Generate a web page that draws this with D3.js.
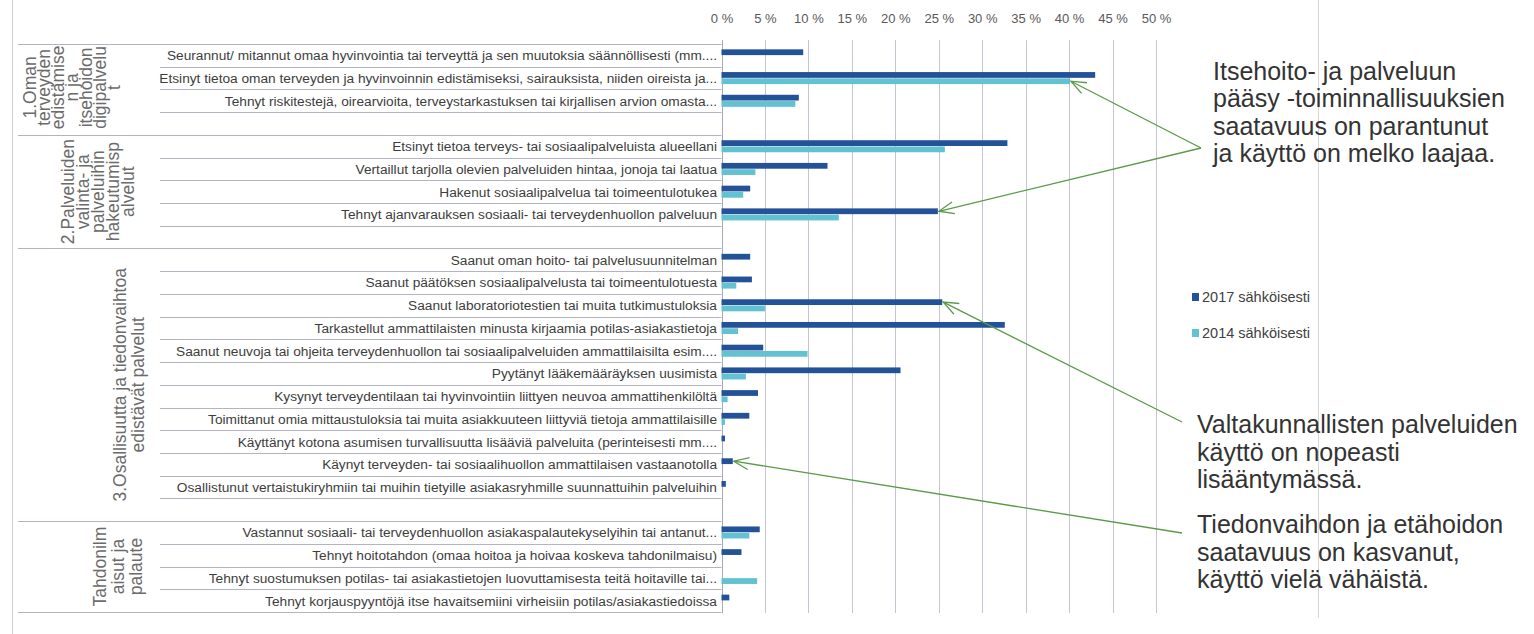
<!DOCTYPE html>
<html><head><meta charset="utf-8">
<script src="https://cdn.jsdelivr.net/npm/d3@7"></script>
<style>body{margin:0;background:#fff}svg{display:block}</style>
</head><body>
<svg id="chart" width="1534" height="634"></svg>
<script>
// ---------------- DATA ----------------
const categories = [
  "Seurannut/ mitannut omaa hyvinvointia tai terveyttä ja sen muutoksia säännöllisesti (mm....",
  "Etsinyt tietoa oman terveyden ja hyvinvoinnin edistämiseksi, sairauksista, niiden oireista ja...",
  "Tehnyt riskitestejä, oirearvioita, terveystarkastuksen tai kirjallisen arvion omasta...",
  "",
  "Etsinyt tietoa terveys- tai sosiaalipalveluista alueellani",
  "Vertaillut tarjolla olevien palveluiden hintaa, jonoja tai laatua",
  "Hakenut sosiaalipalvelua tai toimeentulotukea",
  "Tehnyt ajanvarauksen sosiaali- tai terveydenhuollon palveluun",
  "",
  "Saanut oman hoito- tai palvelusuunnitelman",
  "Saanut päätöksen sosiaalipalvelusta tai toimeentulotuesta",
  "Saanut laboratoriotestien tai muita tutkimustuloksia",
  "Tarkastellut ammattilaisten minusta kirjaamia potilas-asiakastietoja",
  "Saanut neuvoja tai ohjeita terveydenhuollon tai sosiaalipalveluiden ammattilaisilta esim....",
  "Pyytänyt lääkemääräyksen uusimista",
  "Kysynyt terveydentilaan tai hyvinvointiin liittyen neuvoa ammattihenkilöltä",
  "Toimittanut omia mittaustuloksia tai muita asiakkuuteen liittyviä tietoja ammattilaisille",
  "Käyttänyt kotona asumisen turvallisuutta lisääviä palveluita (perinteisesti mm....",
  "Käynyt terveyden- tai sosiaalihuollon ammattilaisen vastaanotolla",
  "Osallistunut vertaistukiryhmiin tai muihin tietyille asiakasryhmille suunnattuihin palveluihin",
  "",
  "Vastannut sosiaali- tai terveydenhuollon asiakaspalautekyselyihin tai antanut...",
  "Tehnyt hoitotahdon (omaa hoitoa ja hoivaa koskeva tahdonilmaisu)",
  "Tehnyt suostumuksen potilas- tai asiakastietojen luovuttamisesta teitä hoitaville tai...",
  "Tehnyt korjauspyyntöjä itse havaitsemiini virheisiin potilas/asiakastiedoissa"
];
const values2017 = [9.4, 43.0, 8.9, null, 32.9, 12.2, 3.3, 24.9, null,
  3.3, 3.5, 25.4, 32.6, 4.8, 20.6, 4.2, 3.2, 0.4, 1.3, 0.5, null,
  4.4, 2.3, null, 0.9];
const values2014 = [null, 40.1, 8.5, null, 25.7, 3.9, 2.5, 13.5, null,
  null, 1.7, 5.0, 1.9, 9.9, 2.8, 0.7, 0.4, null, null, null, null,
  3.2, null, 4.1, null];
const seriesNames = ["2017 sähköisesti", "2014 sähköisesti"];
const groupLabels = [
  ["1.Oman", "terveyden", "edistämise", "n ja", "itsehoidon", "digipalvelu", "t"],
  ["2.Palveluiden", "valinta- ja", "palveluihin", "hakeutumisp", "alvelut"],
  ["3.Osallisuutta ja tiedonvaihtoa", "edistävät palvelut"],
  ["Tahdonilm", "aisut ja", "palaute"]
];
const groupSizes = [4, 5, 12, 4];
const tickValues = [0, 5, 10, 15, 20, 25, 30, 35, 40, 45, 50];
const annotationTexts = [
  ["Itsehoito- ja palveluun", "pääsy -toiminnallisuuksien", "saatavuus on parantunut", "ja käyttö on melko laajaa."],
  ["Valtakunnallisten palveluiden", "käyttö on nopeasti", "lisääntymässä."],
  ["Tiedonvaihdon ja etähoidon", "saatavuus on kasvanut,", "käyttö vielä vähäistä."]
];
// arrows: annotation index -> row index + series
const arrowTargets = [
  {ann: 0, row: 1, series: 1},
  {ann: 0, row: 7, series: 0},
  {ann: 1, row: 11, series: 0},
  {ann: 2, row: 18, series: 0}
];

// ---------------- LAYOUT ----------------
const L = {
  plotX0: 721.5, plotX1: 1156, rowTop: 44, rowBot: 612,
  gridTop: 40, gridBot: 613,
  labelRight: 717, sepLeft: 160, groupLeft: 18,
  groupX0: [29.5, 68, 120, 100], groupDX: [14, 15, 18, 18], groupDY: [-2, 0, 0, 0],
  annX: [1213, 1197, 1197], annY0: [79.5, 433, 533], annDY: 27.6,
  arrowFrom: [[1201, 148], [1182, 422], [1182, 533]],
  legendX: 1192, legendY: [297, 333]
};
const colors = ["#245299", "#62c2d1"];
const green = "#5a9a48";

const svg = d3.select("#chart");
const idx = d3.range(categories.length);

const x = d3.scaleLinear().domain([0, 50]).range([L.plotX0, L.plotX1]);
const y = d3.scaleBand().domain(idx).range([L.rowTop, L.rowBot])
  .paddingInner(0.47).paddingOuter(0.235);
const ySub = d3.scaleBand().domain([0, 1]).range([0, y.bandwidth()]).paddingInner(0.08);
const step = y.step();
const rowStart = i => y(i) - step * y.paddingInner() / 2;

// outer frame
svg.append("line").attr("x1", 12.5).attr("x2", 12.5).attr("y1", 0).attr("y2", 634)
  .attr("stroke", "#cfcfcf");
svg.append("line").attr("x1", 1318.5).attr("x2", 1318.5).attr("y1", 0).attr("y2", 618)
  .attr("stroke", "#d6d6d6");

// gridlines
svg.append("g").selectAll("line").data(tickValues).join("line")
  .attr("x1", d => Math.round(x(d)) + 0.5).attr("x2", d => Math.round(x(d)) + 0.5)
  .attr("y1", L.gridTop).attr("y2", L.gridBot)
  .attr("stroke", d => d === 0 ? "#a9a9bd" : "#c4c4d4").attr("stroke-width", 1);

// top axis labels
const xAxis = d3.axisTop(x).tickValues(tickValues).tickSize(0).tickFormat(d => d + " %");
const gAx = svg.append("g").attr("transform", "translate(0,26)").call(xAxis);
gAx.select(".domain").remove();
gAx.selectAll("text").attr("font-family", "Liberation Sans, Arial, sans-serif")
  .attr("font-size", 13).attr("fill", "#595959").attr("dy", 0);

// row separators in label area
const groupBoundaryRows = [0];
groupSizes.reduce((acc, s) => { groupBoundaryRows.push(acc + s); return acc + s; }, 0);
const groupYs = groupBoundaryRows.map(r => r < categories.length ? rowStart(r) : L.rowBot);
svg.append("g").selectAll("line").data(d3.range(1, categories.length).filter(i => !groupBoundaryRows.includes(i)))
  .join("line")
  .attr("x1", L.sepLeft).attr("x2", L.plotX0)
  .attr("y1", i => Math.round(rowStart(i)) + 0.5).attr("y2", i => Math.round(rowStart(i)) + 0.5)
  .attr("stroke", "#b3b3c4");
svg.append("g").selectAll("line").data(groupYs).join("line")
  .attr("x1", L.groupLeft).attr("x2", L.plotX0)
  .attr("y1", d => Math.round(d) + 0.5).attr("y2", d => Math.round(d) + 0.5)
  .attr("stroke", "#b3b3c4");

// item labels
svg.append("g").selectAll("text").data(idx.filter(i => categories[i] !== "")).join("text")
  .attr("x", L.labelRight).attr("y", i => y(i) + y.bandwidth() / 2)
  .attr("dy", "0.36em").attr("text-anchor", "end")
  .attr("font-family", "Liberation Sans, Arial, sans-serif").attr("font-size", 13.7)
  .attr("fill", "#3d3d3d").text(i => categories[i]);

// group labels (rotated)
groupLabels.forEach((lines, g) => {
  const cy = (groupYs[g] + groupYs[g + 1]) / 2 + L.groupDY[g];
  lines.forEach((t, k) => {
    const lx = L.groupX0[g] + k * L.groupDX[g];
    svg.append("text")
      .attr("transform", `translate(${lx},${cy}) rotate(-90)`)
      .attr("text-anchor", "middle").attr("dy", "0.35em")
      .attr("font-family", "Liberation Sans, Arial, sans-serif").attr("font-size", 17.5)
      .attr("fill", "#6b6b6b").text(t);
  });
});

// bars
const series = [values2017, values2014];
series.forEach((vals, s) => {
  svg.append("g").selectAll("rect").data(idx.filter(i => vals[i] != null && vals[i] > 0)).join("rect")
    .attr("x", x(0)).attr("y", i => y(i) + ySub(s))
    .attr("width", i => x(vals[i]) - x(0)).attr("height", ySub.bandwidth())
    .attr("fill", colors[s]);
});

// legend
seriesNames.forEach((n, s) => {
  svg.append("rect").attr("x", L.legendX).attr("y", L.legendY[s] - 4).attr("width", 7).attr("height", 8)
    .attr("fill", colors[s]);
  svg.append("text").attr("x", L.legendX + 10).attr("y", L.legendY[s]).attr("dy", "0.35em")
    .attr("font-family", "Liberation Sans Narrow, Liberation Sans, Arial, sans-serif").attr("font-size", 14.5)
    .attr("fill", "#404040").text(n);
});

// annotation texts
annotationTexts.forEach((lines, a) => {
  const t = svg.append("text").attr("font-family", "Liberation Sans, Arial, sans-serif")
    .attr("font-size", 25).attr("fill", "#333");
  lines.forEach((ln, k) => t.append("tspan").attr("x", L.annX[a]).attr("y", L.annY0[a] + k * L.annDY).text(ln));
});

// arrows
const defs = svg.append("defs");
defs.append("marker").attr("id", "arr").attr("markerUnits", "userSpaceOnUse")
  .attr("viewBox", "-16 -8 18 16").attr("refX", 0).attr("refY", 0)
  .attr("markerWidth", 18).attr("markerHeight", 16).attr("orient", "auto")
  .append("path").attr("d", "M-15,-6 L0,0 L-15,6").attr("fill", "none")
  .attr("stroke", green).attr("stroke-width", 1.3);
arrowTargets.forEach(t => {
  const vals = series[t.series];
  const tx = x(vals[t.row]) + 1;
  const ty = y(t.row) + ySub(t.series) + ySub.bandwidth() / 2;
  const [fx, fy] = L.arrowFrom[t.ann];
  svg.append("line").attr("x1", fx).attr("y1", fy).attr("x2", tx).attr("y2", ty)
    .attr("stroke", green).attr("stroke-width", 1.3).attr("marker-end", "url(#arr)");
});
</script>
</body></html>
